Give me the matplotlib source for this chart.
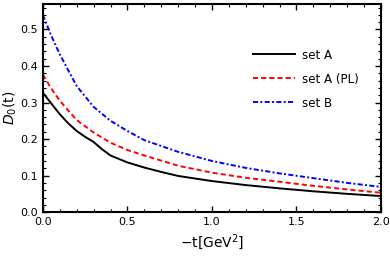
import matplotlib.pyplot as plt
from matplotlib.ticker import MultipleLocator

# -t values and D_0(t)
t_a = [0.0, 0.05, 0.1, 0.15, 0.2, 0.25, 0.3, 0.35, 0.4, 0.5, 0.6, 0.7, 0.8, 1.0, 1.2, 1.4, 1.6, 1.8, 2.0]
set_a = [0.327, 0.297, 0.268, 0.243, 0.222, 0.206, 0.192, 0.172, 0.155, 0.136, 0.122, 0.110, 0.099, 0.085, 0.074, 0.065, 0.057, 0.050, 0.044]

t_pl = [0.0, 0.05, 0.1, 0.15, 0.2, 0.3, 0.4, 0.5, 0.6, 0.8, 1.0, 1.2, 1.4, 1.6, 1.8, 2.0]
set_a_pl = [0.376, 0.338, 0.305, 0.278, 0.252, 0.218, 0.190, 0.170, 0.155, 0.127, 0.108, 0.094, 0.083, 0.072, 0.062, 0.053]

t_b = [0.0, 0.05, 0.1, 0.15, 0.2, 0.3, 0.4, 0.5, 0.6, 0.8, 1.0, 1.2, 1.4, 1.6, 1.8, 2.0]
set_b = [0.540, 0.482, 0.432, 0.388, 0.345, 0.288, 0.250, 0.222, 0.197, 0.165, 0.140, 0.121, 0.106, 0.093, 0.080, 0.069]

fig = plt.figure(figsize=(3.9, 2.59), dpi=100)
ax = fig.add_axes([0.110, 0.181, 0.867, 0.804])

ax.plot(t_a, set_a, color="black", linestyle="-", linewidth=1.4, label="set A")
ax.plot(t_pl, set_a_pl, color="red", linestyle=(0, (2.6, 1.6)), linewidth=1.4, label="set A (PL)")
ax.plot(t_b, set_b, color="blue", linestyle=(0, (2.6, 1.2, 1, 1.2)), linewidth=1.4, label="set B")

ax.set_xlim(0, 2.0)
ax.set_ylim(0, 0.57)
ax.xaxis.set_major_locator(MultipleLocator(0.5))
ax.xaxis.set_minor_locator(MultipleLocator(0.1))
ax.yaxis.set_major_locator(MultipleLocator(0.1))
ax.yaxis.set_minor_locator(MultipleLocator(0.02))
ax.tick_params(which="both", direction="in", top=True, right=True, labelsize=8)
ax.tick_params(which="major", length=4, width=1)
ax.tick_params(which="minor", length=2, width=0.8)
for s in ax.spines.values():
    s.set_linewidth(1.5)

ax.set_xlabel("\u2212t[GeV$^2$]", fontsize=10)
ax.set_ylabel("$D_0$(t)", fontsize=10)
ax.yaxis.set_label_coords(-0.071, 0.5)

ax.legend(loc="upper left", bbox_to_anchor=(0.621, 0.785), frameon=False, fontsize=8.6,
          handlelength=3.5, handletextpad=0.65, labelspacing=0.92,
          borderpad=0, borderaxespad=0)

fig.savefig("out.png", dpi=100)
